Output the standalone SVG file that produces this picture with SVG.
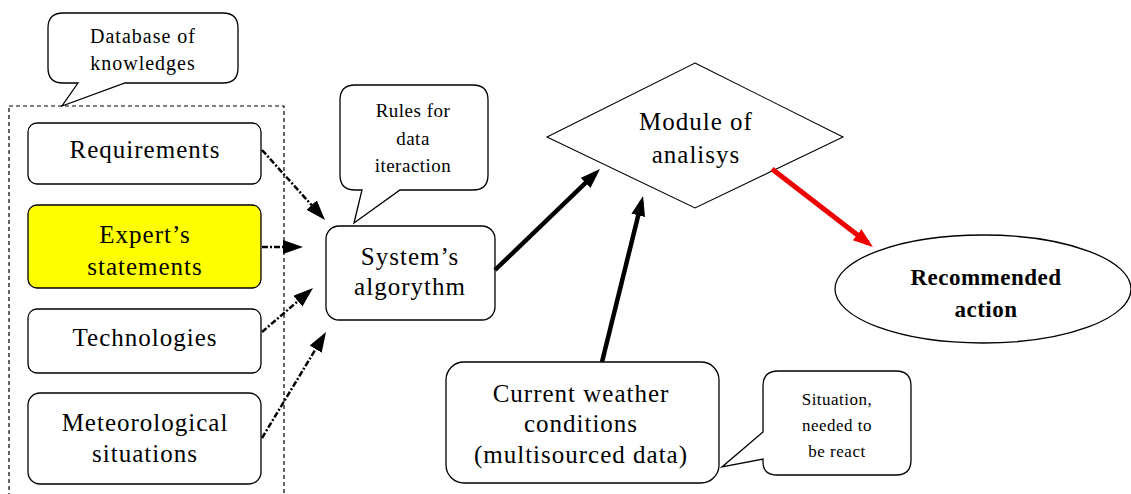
<svg xmlns="http://www.w3.org/2000/svg" width="1131" height="494" viewBox="0 0 1131 494">
  <style>
    .box { fill: #ffffff; stroke: #000000; stroke-width: 1.3; }
    .hl { fill: #ffff00; }
    text { font-family: "Liberation Serif", "DejaVu Serif", serif; fill: #000000; text-anchor: middle; }
    .big { font-size: 25px; letter-spacing: 1px; }
    .mid { font-size: 20px; letter-spacing: 1px; }
    .small { font-size: 17px; letter-spacing: 0.5px; }
    .rules { font-size: 19px; letter-spacing: 0.5px; }
    .bold { font-size: 23px; font-weight: bold; letter-spacing: 0.5px; }
    .dash { fill: none; stroke: #000000; stroke-width: 2.5; stroke-dasharray: 6 2 2 2; }
    .solid { fill: none; stroke: #000000; stroke-width: 4.5; }
    .red { fill: none; stroke: #ee0000; stroke-width: 5; }
  </style>
  <defs>
    <marker id="head" markerUnits="userSpaceOnUse" markerWidth="22" markerHeight="16" refX="14" refY="7" orient="auto">
      <path d="M0,0 L20,7 L0,14 Z" fill="#000000"/>
    </marker>
    <marker id="headRed" markerUnits="userSpaceOnUse" markerWidth="22" markerHeight="16" refX="14" refY="7" orient="auto">
      <path d="M0,0 L20,7 L0,14 Z" fill="#ee0000"/>
    </marker>
  </defs>
  <rect width="1131" height="494" fill="#ffffff"/>

  <!-- knowledge base frame -->
  <g id="knowledge-base">
    <rect x="9" y="106" width="275" height="400" fill="none" stroke="#000000" stroke-width="1.2" stroke-dasharray="4 3"/>
  </g>

  <g id="db-callout">
    <path class="box" d="M63,13 H223 Q238,13 238,28 V68 Q238,83 223,83 H125 L62,106 L78,83 H63 Q48,83 48,68 V28 Q48,13 63,13 Z"/>
    <text class="mid" x="143" y="43">Database of</text>
    <text class="mid" x="143" y="70">knowledges</text>
  </g>

  <g id="requirements">
    <rect class="box" x="28" y="123" width="233" height="61" rx="9"/>
    <text class="big" x="145" y="158">Requirements</text>
  </g>

  <g id="experts">
    <rect class="box hl" x="28" y="205" width="233" height="83" rx="9"/>
    <text class="big" x="145" y="243">Expert’s</text>
    <text class="big" x="145" y="275">statements</text>
  </g>

  <g id="technologies">
    <rect class="box" x="28" y="309" width="233" height="64" rx="9"/>
    <text class="big" x="145" y="346">Technologies</text>
  </g>

  <g id="meteo">
    <rect class="box" x="28" y="393" width="233" height="91" rx="12"/>
    <text class="big" x="145" y="431">Meteorological</text>
    <text class="big" x="145" y="462">situations</text>
  </g>

  <g id="rules-callout">
    <path class="box" d="M355,85 H473 Q488,85 488,100 V175 Q488,190 473,190 H400 L354,223 L362,190 H355 Q340,190 340,175 V100 Q340,85 355,85 Z"/>
    <text class="rules" x="413" y="117">Rules for</text>
    <text class="rules" x="413" y="145">data</text>
    <text class="rules" x="413" y="172">iteraction</text>
  </g>

  <g id="algorithm">
    <rect class="box" x="326" y="226" width="169" height="94" rx="13"/>
    <text class="big" x="410" y="265">System’s</text>
    <text class="big" x="410" y="295">algorythm</text>
  </g>

  <g id="module">
    <polygon points="695,63 843,137 695,208 547,137" fill="#ffffff" stroke="#000000" stroke-width="1.1"/>
    <text class="big" x="696" y="130">Module of</text>
    <text class="big" x="696" y="163">analisys</text>
  </g>

  <g id="recommended">
    <ellipse class="box" cx="983" cy="289" rx="148" ry="54"/>
    <text class="bold" x="986" y="285">Recommended</text>
    <text class="bold" x="986" y="317">action</text>
  </g>

  <g id="weather">
    <rect class="box" x="446" y="362" width="273" height="121" rx="18"/>
    <text class="big" x="581" y="402">Current weather</text>
    <text class="big" x="581" y="432">conditions</text>
    <text class="big" x="581" y="463">(multisourced data)</text>
  </g>

  <g id="situation-callout">
    <path class="box" d="M778,371 H896 Q911,371 911,386 V460 Q911,475 896,475 H777 Q763,475 763,462 V459 L722,467 L763,432 V386 Q763,371 778,371 Z"/>
    <text class="small" x="837" y="405">Situation,</text>
    <text class="small" x="837" y="431">needed to</text>
    <text class="small" x="837" y="457">be react</text>
  </g>

  <!-- connectors -->
  <g id="connectors">
    <line class="dash" x1="262" y1="150" x2="321" y2="215.5" marker-end="url(#head)"/>
    <line class="dash" x1="262" y1="247" x2="297" y2="247" marker-end="url(#head)"/>
    <line class="dash" x1="262" y1="332" x2="308.5" y2="292" marker-end="url(#head)"/>
    <line class="dash" x1="262" y1="438" x2="322.9" y2="337.1" marker-end="url(#head)"/>
    <line class="solid" x1="495" y1="270" x2="595.7" y2="173.2" marker-end="url(#head)"/>
    <line class="solid" x1="602" y1="362" x2="641.6" y2="201.8" marker-end="url(#head)"/>
    <line class="red" x1="772" y1="169" x2="868.2" y2="243.3" marker-end="url(#headRed)"/>
  </g>
</svg>
